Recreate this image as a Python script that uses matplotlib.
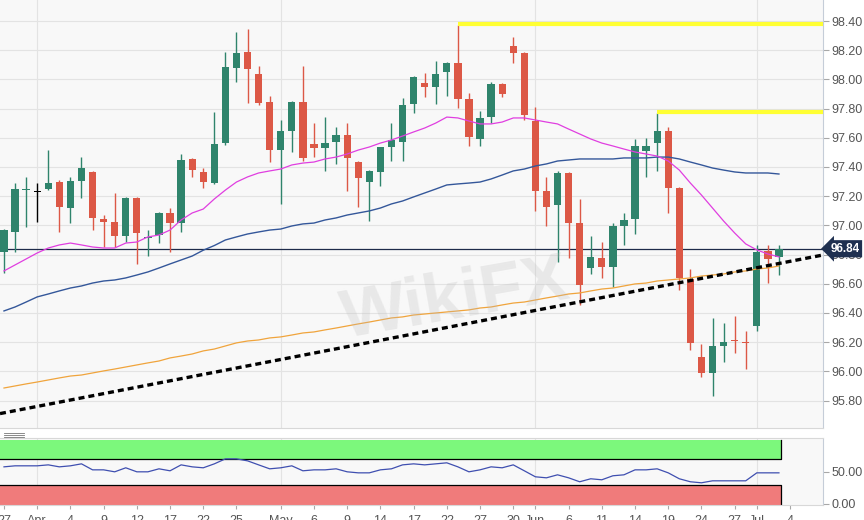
import numpy as np
import pandas as pd
import matplotlib
matplotlib.use("Agg")
import matplotlib.pyplot as plt
import matplotlib.transforms as mtransforms
from matplotlib.lines import Line2D
from matplotlib.ticker import FormatStrFormatter

plt.rcParams['font.family'] = ['Liberation Sans', 'DejaVu Sans']

# daily candles, Mar 27 - Jul 3 2019 (weekdays)
dates = pd.bdate_range("2019-03-27", "2019-07-03")

opens = [96.818, 96.955, 97.240, 97.230, 97.249, 97.297, 97.119, 97.304, 97.366, 97.044,
         97.023, 96.927, 97.188, 96.913, 96.934, 97.085, 97.016, 97.455, 97.366, 97.290,
         97.564, 98.078, 98.188, 98.037, 97.845, 97.516, 97.647, 97.845, 97.558, 97.530,
         97.571, 97.619, 97.434, 97.297, 97.366, 97.537, 97.571, 97.831, 97.975, 97.948,
         98.051, 98.112, 97.866, 97.592, 97.742, 97.968, 98.229, 98.181, 97.715, 97.236,
         97.140, 97.359, 97.016, 96.708, 96.777, 96.715, 96.996, 97.044, 97.510, 97.564,
         97.647, 97.256, 96.633, 96.099, 95.989, 96.174, 96.215, 96.201, 96.311, 96.825,
         96.784]
highs = [96.975, 97.290, 97.331, 97.290, 97.516, 97.310, 97.331, 97.468, 97.373, 97.071,
         97.222, 97.195, 97.195, 96.968, 97.090, 97.119, 97.489, 97.460, 97.393, 97.777,
         98.188, 98.325, 98.345, 98.092, 97.886, 97.722, 97.852, 98.092, 97.701, 97.743,
         97.674, 97.701, 97.441, 97.380, 97.540, 97.701, 97.873, 98.023, 98.044, 98.126,
         98.120, 98.373, 97.907, 97.784, 97.982, 97.975, 98.290, 98.190, 97.811, 97.331,
         97.373, 97.366, 97.181, 96.927, 96.886, 97.016, 97.085, 97.592, 97.599, 97.770,
         97.674, 97.260, 96.701, 96.188, 96.366, 96.332, 96.380, 96.277, 96.866, 96.866,
         96.866]
lows = [96.674, 96.818, 96.989, 97.020, 97.240, 96.955, 97.016, 97.188, 96.968, 96.852,
        96.852, 96.886, 96.736, 96.790, 96.880, 96.818, 96.955, 97.331, 97.256, 97.283,
        97.551, 97.982, 97.838, 97.825, 97.434, 97.147, 97.503, 97.441, 97.468, 97.373,
        97.421, 97.236, 97.126, 97.030, 97.270, 97.441, 97.441, 97.770, 97.879, 97.831,
        97.886, 97.804, 97.544, 97.544, 97.701, 97.879, 98.112, 97.720, 97.099, 96.996,
        96.749, 96.777, 96.455, 96.667, 96.640, 96.578, 96.866, 96.941, 97.331, 97.373,
        97.085, 96.558, 96.147, 95.962, 95.832, 96.064, 96.126, 96.017, 96.277, 96.606,
        96.660]
closes = [96.968, 97.249, 97.250, 97.230, 97.290, 97.126, 97.304, 97.393, 97.051, 97.023,
          96.927, 97.188, 96.948, 96.920, 97.085, 97.016, 97.448, 97.379, 97.297, 97.558,
          98.085, 98.181, 98.071, 97.838, 97.516, 97.647, 97.845, 97.462, 97.530, 97.564,
          97.619, 97.462, 97.325, 97.373, 97.537, 97.585, 97.825, 98.016, 97.948, 98.037,
          98.112, 97.866, 97.605, 97.736, 97.968, 97.900, 98.181, 97.756, 97.236, 97.126,
          97.359, 97.016, 96.592, 96.784, 96.715, 96.996, 97.037, 97.544, 97.544, 97.647,
          97.256, 96.640, 96.195, 95.989, 96.174, 96.201, 96.208, 96.195, 96.818, 96.770,
          96.840]

# moving averages as drawn on the chart
sma_fast = [96.688, 96.729, 96.770, 96.811, 96.845, 96.866, 96.879, 96.866, 96.852, 96.845,
            96.845, 96.879, 96.886, 96.921, 96.934, 96.968, 97.037, 97.085, 97.112, 97.181,
            97.242, 97.297, 97.332, 97.359, 97.373, 97.386, 97.414, 97.427, 97.434, 97.455,
            97.468, 97.489, 97.516, 97.537, 97.564, 97.585, 97.612, 97.640, 97.667, 97.701,
            97.742, 97.736, 97.715, 97.695, 97.695, 97.708, 97.736, 97.736, 97.722, 97.708,
            97.695, 97.660, 97.626, 97.592, 97.564, 97.544, 97.523, 97.503, 97.489, 97.475,
            97.441, 97.379, 97.290, 97.208, 97.119, 97.030, 96.948, 96.873, 96.832, 96.804,
            96.784]
sma_mid = [96.414, 96.441, 96.475, 96.510, 96.530, 96.551, 96.571, 96.585, 96.605, 96.619,
           96.626, 96.640, 96.660, 96.681, 96.708, 96.736, 96.763, 96.790, 96.830, 96.862,
           96.900, 96.921, 96.941, 96.955, 96.968, 96.975, 96.996, 97.010, 97.016, 97.037,
           97.051, 97.071, 97.085, 97.099, 97.119, 97.147, 97.167, 97.195, 97.222, 97.249,
           97.277, 97.284, 97.290, 97.297, 97.318, 97.345, 97.373, 97.386, 97.407, 97.421,
           97.441, 97.448, 97.455, 97.455, 97.455, 97.455, 97.462, 97.462, 97.462, 97.468,
           97.468, 97.455, 97.434, 97.414, 97.393, 97.379, 97.366, 97.359, 97.359, 97.359,
           97.352]
sma_slow = [95.886, 95.900, 95.914, 95.927, 95.941, 95.955, 95.968, 95.975, 95.989, 96.003,
            96.016, 96.030, 96.044, 96.058, 96.071, 96.092, 96.105, 96.119, 96.140, 96.153,
            96.174, 96.195, 96.208, 96.215, 96.229, 96.236, 96.249, 96.263, 96.270, 96.284,
            96.297, 96.311, 96.325, 96.338, 96.352, 96.366, 96.373, 96.386, 96.393, 96.400,
            96.407, 96.414, 96.421, 96.434, 96.441, 96.455, 96.468, 96.475, 96.489, 96.503,
            96.516, 96.530, 96.537, 96.551, 96.564, 96.571, 96.585, 96.599, 96.605, 96.619,
            96.626, 96.633, 96.640, 96.653, 96.660, 96.667, 96.681, 96.688, 96.701, 96.708,
            96.722]

rsi = [57.8, 59.4, 59.4, 59.4, 60.9, 57.8, 59.4, 62.5, 53.1, 53.1,
       50.0, 56.3, 50.0, 50.0, 54.7, 51.6, 60.9, 57.8, 56.3, 62.5,
       70.3, 70.3, 67.2, 60.9, 54.7, 56.3, 59.4, 51.6, 53.1, 53.1,
       54.7, 50.0, 48.4, 48.4, 53.1, 54.7, 60.9, 62.5, 60.9, 62.5,
       64.1, 57.8, 50.0, 53.1, 57.8, 56.3, 60.9, 51.6, 42.2, 40.6,
       45.3, 40.6, 34.4, 39.1, 37.5, 43.8, 45.3, 53.1, 53.1, 54.7,
       48.4, 39.1, 34.4, 32.8, 35.9, 35.9, 35.9, 35.9, 48.4, 48.4,
       48.4]

last_price = 96.84
resist_levels = [98.38, 97.78]
resist_start = ["2019-05-23", "2019-06-18"]
trend_dates = ["2019-03-27", "2019-07-03"]
trend_prices = [95.716, 96.739]

tick_dates = ["2019-03-27", "2019-04-01", "2019-04-04", "2019-04-09", "2019-04-12",
              "2019-04-17", "2019-04-22", "2019-04-25", "2019-05-01", "2019-05-06",
              "2019-05-09", "2019-05-14", "2019-05-17", "2019-05-22", "2019-05-27",
              "2019-05-30", "2019-06-03", "2019-06-06", "2019-06-11", "2019-06-14",
              "2019-06-19", "2019-06-24", "2019-06-27", "2019-07-01", "2019-07-04"]
tick_labels = ["27", "Apr", "4", "9", "12", "17", "22", "25", "May", "6", "9", "14", "17",
               "22", "27", "30", "Jun", "6", "11", "14", "19", "24", "27", "Jul", "4"]

GREEN = '#2f846c'
RED = '#dc5846'
BG = '#f8f8f8'
GRID = '#e3e3e3'

all_days = pd.bdate_range("2019-03-27", "2019-07-04")
x = np.arange(len(dates))
o = np.array(opens); h = np.array(highs); l = np.array(lows); c = np.array(closes)
xmin, xmax = -0.36, 73.98
tick_pos = all_days.get_indexer(pd.to_datetime(tick_dates))
month_pos = [i for i in range(1, len(dates)) if dates[i].month != dates[i - 1].month]

fig = plt.figure(figsize=(8.64, 5.2), dpi=100)
ax = fig.add_axes([0, 1 - 428 / 520, 823 / 864, 428 / 520])
ax2 = fig.add_axes([0, 1 - 505 / 520, 823 / 864, 67 / 520])

# ---- price panel
ax.set_facecolor(BG)
ax.set_xlim(xmin, xmax)
ax.set_ylim(95.612, 98.544)
ax.yaxis.tick_right()
ax.set_yticks(np.arange(95.8, 98.41, 0.2))
ax.yaxis.set_major_formatter(FormatStrFormatter('%.2f'))
ax.tick_params(axis='y', length=4, color='#a8a8a8', labelcolor='#555555', labelsize=9, pad=2)
ax.tick_params(axis='x', bottom=False, labelbottom=False)
ax.grid(axis='y', color=GRID, lw=0.8, zorder=0)
for m in month_pos:
    ax.axvline(m, color=GRID, lw=0.8, zorder=0)
for s in ['left', 'top']:
    ax.spines[s].set_visible(False)
ax.spines['right'].set_color('#c5cdd8')
ax.spines['bottom'].set_color('#d8d8d8')

ax.axhline(last_price, color='#1e2b4a', lw=0.9, zorder=2)

colors = [GREEN if cc > oo else (RED if cc < oo else 'black') for oo, cc in zip(o, c)]
ax.vlines(x, l, h, colors=colors, lw=1, zorder=3)
body_lo = np.minimum(o, c)
body_h = np.maximum(np.abs(c - o), 0.008)
ax.bar(x, body_h, bottom=body_lo, width=0.66, color=colors, zorder=4)

ax.plot(x, sma_slow, color='#f0a43c', lw=0.9, zorder=5)
ax.plot(x, sma_mid, color='#34579a', lw=1.0, zorder=5)
ax.plot(x, sma_fast, color='#e03ee0', lw=0.9, zorder=5)

tx = all_days.get_indexer(pd.to_datetime(trend_dates))
k, b = np.polyfit(tx, trend_prices, 1)
ax.plot([xmin, xmax], [k * xmin + b, k * xmax + b], color='black', lw=2.4,
        dashes=(1.8, 1.2), dash_capstyle='butt', zorder=6)

rs = all_days.get_indexer(pd.to_datetime(resist_start))
for lev, st in zip(resist_levels, rs):
    ax.hlines(lev, st, xmax, color='#ffff33', lw=3, zorder=6)

trans = mtransforms.blended_transform_factory(ax.transAxes, ax.transData)
ax.text(1.009, last_price, '%.2f' % last_price, transform=trans, ha='left', va='center',
        color='white', fontsize=8.5, fontweight='bold', clip_on=False, zorder=10,
        bbox=dict(boxstyle='larrow,pad=0.22', fc='#1f3050', ec='none'))

# ---- RSI panel
ax2.set_facecolor(BG)
ax2.set_xlim(xmin, xmax)
ax2.set_ylim(-2, 103)
band_end = x[-1] + 0.15
ax2.fill_between([xmin, band_end], 70, 100, color='#7cf87c', lw=0, zorder=1)
ax2.fill_between([xmin, band_end], -2, 30, color='#f07b7b', lw=0, zorder=1)
ax2.plot([xmin, band_end, band_end], [70, 70, 100], color='black', lw=0.9, zorder=2)
ax2.plot([xmin, band_end, band_end], [30, 30, -2], color='black', lw=0.9, zorder=2)
for m in month_pos:
    ax2.axvline(m, color=GRID, lw=0.8, zorder=0)
ax2.plot(x, rsi, color='#3f4fb0', lw=0.9, zorder=3)
ax2.yaxis.tick_right()
ax2.set_yticks([0, 50])
ax2.yaxis.set_major_formatter(FormatStrFormatter('%.2f'))
ax2.tick_params(axis='y', length=4, color='#a8a8a8', labelcolor='#555555', labelsize=9, pad=2)
ax2.set_xticks(tick_pos)
ax2.set_xticklabels(tick_labels)
ax2.tick_params(axis='x', length=3, color='#a8a8a8', labelcolor='#555555', labelsize=9, pad=4)
ax2.spines['left'].set_visible(False)
for s in ['top', 'bottom']:
    ax2.spines[s].set_color('#d8d8d8')
ax2.spines['right'].set_color('#c5cdd8')

# panel separator handle
for yy in (433, 435, 437):
    fig.add_artist(Line2D([4 / 864, 24 / 864], [1 - yy / 520, 1 - yy / 520],
                          color='#777777', lw=0.6))

fig.text(455 / 864, 1 - 300 / 520, 'WikiFX', fontsize=50, fontweight='bold', rotation=10,
         color='#bbbbbb', alpha=0.25, ha='center', va='center')

fig.savefig('out.png', dpi=100, facecolor='white')
